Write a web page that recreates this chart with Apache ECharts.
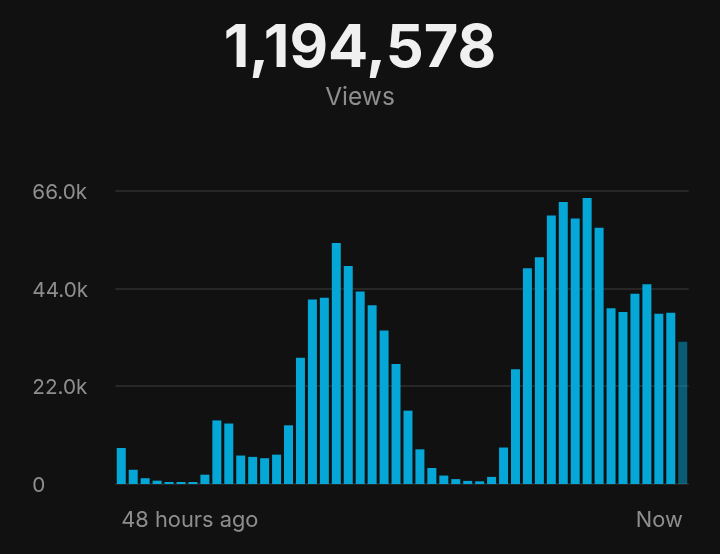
<!DOCTYPE html>
<html>
<head>
<meta http-equiv="content-type" content="text/html; charset=utf-8" />
<script src="https://cdn.jsdelivr.net/npm/echarts@6/dist/echarts.min.js"></script>
<title>Views</title>
<style type="text/css">
* {margin:0; padding:0;}
body {background:#111112;}
#chart {width:720px; height:554px;}
</style>
</head>
<body>
<div id="chart"></div>
<script>
// values in thousands of views, oldest hour first
var views = [8.1,3.2,1.3,0.75,0.45,0.45,0.45,2.1,14.3,13.6,6.4,6.1,5.8,6.6,13.2,28.4,41.5,41.9,54.2,49.0,43.3,40.2,34.5,27.0,
	16.5,7.8,3.6,1.9,1.1,0.7,0.6,1.6,8.2,25.8,48.5,51.0,60.4,63.4,59.7,64.3,57.6,39.5,38.7,42.8,44.9,38.3,38.5,32.0];
var hours = views.map(function (v, i) { return i; });
var xLabels = {0: '48 hours ago', 47: 'Now'};
var yTicks = [0, 22, 44, 66];
var yLabels = {0: '0', 22: '22.0k', 44: '44.0k', 66: '66.0k'};
var totalText = '1,194,578';
var subText = 'Views';

var chart = echarts.init(document.getElementById('chart'));
chart.setOption({
	backgroundColor: '#111112',
	animation: false,
	textStyle: {fontFamily: 'Inter'},
	title: [{
		text: totalText,
		left: 355,
		top: 14,
		textAlign: 'center',
		textStyle: {fontSize: 59.5, fontWeight: 700, color: '#f0f0f0', fontFamily: 'Inter'}
	}, {
		text: subText,
		left: 355,
		top: 80,
		textAlign: 'center',
		textStyle: {fontSize: 24.5, fontWeight: 400, color: '#8e8e8e', fontFamily: 'Inter'}
	}],
	grid: {left: 115.3, right: 31.3, top: 190.5, bottom: 70},
	xAxis: {
		type: 'category',
		data: hours,
		axisLine: {show: true, lineStyle: {color: '#262626', width: 1}},
		axisTick: {show: false},
		axisLabel: {
			interval: function (i) { return xLabels[i] !== undefined; },
			formatter: function (v, i) { return xLabels[i] || ''; },
			alignMinLabel: 'left',
			alignMaxLabel: 'right',
			margin: 25,
			fontSize: 21.8,
			color: '#8e8e8e'
		}
	},
	yAxis: {
		type: 'value',
		min: 0,
		max: 66,
		interval: yTicks[1],
		axisLine: {show: false},
		axisTick: {show: false},
		axisLabel: {
			formatter: function (v) { return '{t|' + yLabels[v] + '}'; },
			align: 'left',
			margin: 83,
			rich: {t: {fontSize: 20.7, color: '#8e8e8e', fontFamily: 'Inter', padding: [4, 0, 0, 0]}}
		},
		splitLine: {lineStyle: {color: '#272728', width: 2}}
	},
	series: [{
		type: 'bar',
		barWidth: 9,
		itemStyle: {color: '#04a7d6'},
		data: views.map(function (v, i) {
			// the running hour is drawn dimmed
			return i === views.length - 1 ? {value: v, itemStyle: {color: 'rgba(4,167,214,0.5)'}} : v;
		})
	}]
});
</script>
</body>
</html>
